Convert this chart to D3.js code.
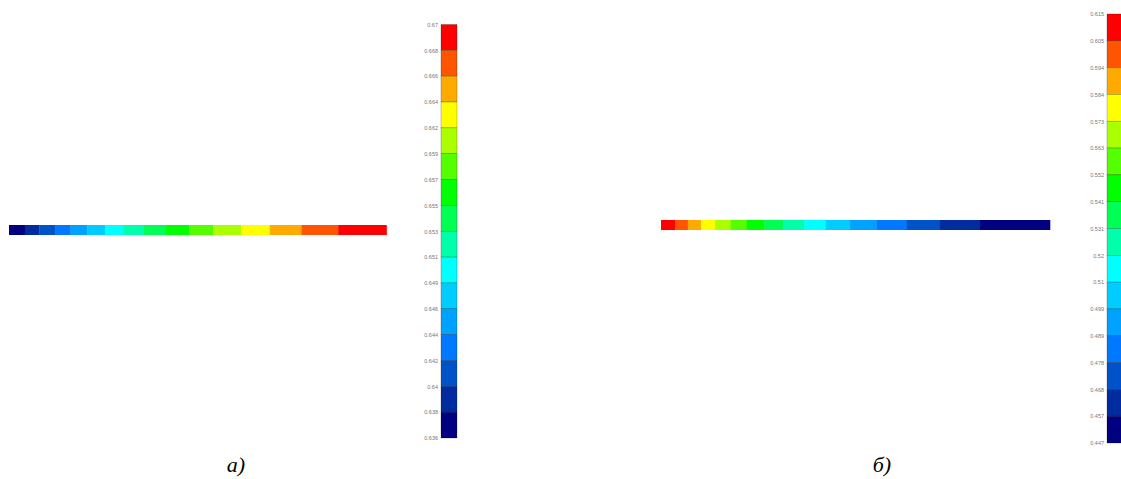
<!DOCTYPE html>
<html>
<head>
<meta charset="utf-8">
<script src="https://cdn.jsdelivr.net/npm/d3@7"></script>
<style>
  body { margin: 0; background: #fff; }
  svg { display: block; }
</style>
</head>
<body>
<div id="main"></div>
<script>
// 16-level palette, lowest level first
const levelColors = [
  "#000080", "#002ca0", "#0052c8", "#0078ff", "#00a2ff", "#00ccff",
  "#00ffff", "#00ffaa", "#00ff55", "#00ff00", "#55ff00", "#aaff00",
  "#ffff00", "#ffaa00", "#ff5500", "#ff0000"
];

// colorbar tick labels, top to bottom
const labelsA = ["0.67", "0.668", "0.666", "0.664", "0.662", "0.659", "0.657", "0.655",
  "0.653", "0.651", "0.649", "0.646", "0.644", "0.642", "0.64", "0.638", "0.636"];
const labelsB = ["0.615", "0.605", "0.594", "0.584", "0.573", "0.563", "0.552", "0.541",
  "0.531", "0.52", "0.51", "0.499", "0.489", "0.478", "0.468", "0.457", "0.447"];

// where the field crosses each level along the line (fraction of length)
const edgesA = [0, 0.042, 0.080, 0.122, 0.163, 0.207, 0.255, 0.304, 0.357,
  0.415, 0.477, 0.541, 0.615, 0.691, 0.775, 0.872, 1];
const edgesB = [0, 0.036, 0.069, 0.103, 0.139, 0.179, 0.220, 0.266, 0.314,
  0.368, 0.423, 0.486, 0.554, 0.632, 0.717, 0.820, 1];
// level index of each segment, left to right
const levelsA = d3.range(16);
const levelsB = d3.range(15, -1, -1);

const captions = ["a)", "б)"];

const width = 1121, height = 479;

const svg = d3.select("#main").append("svg")
  .attr("width", width)
  .attr("height", height);

const panels = [
  {edges: edgesA, levels: levelsA, labels: labelsA, caption: captions[0],
   line: {x0: 9, x1: 386.5, y: 225, h: 10},
   bar: {x: 441, w: 16, top: 24.5, bottom: 438},
   capX: 236},
  {edges: edgesB, levels: levelsB, labels: labelsB, caption: captions[1],
   line: {x0: 661, x1: 1050, y: 220, h: 10},
   bar: {x: 1107, w: 16, top: 14, bottom: 443},
   capX: 882}
];

panels.forEach(p => {
  // the line, coloured by level
  const x = d3.scaleLinear().domain([0, 1]).range([p.line.x0, p.line.x1]);
  const segs = p.levels.map((lv, i) => ({lv, a: p.edges[i], b: p.edges[i + 1]}));
  svg.append("g").selectAll("rect")
    .data(segs)
    .enter().append("rect")
      .attr("x", d => x(d.a))
      .attr("y", p.line.y)
      .attr("width", d => x(d.b) - x(d.a) + 0.3)
      .attr("height", p.line.h)
      .attr("fill", d => levelColors[d.lv]);

  // colorbar
  const y = d3.scaleLinear().domain([0, 16]).range([p.bar.top, p.bar.bottom]);
  const bands = d3.range(16);
  svg.append("g").selectAll("rect")
    .data(bands)
    .enter().append("rect")
      .attr("x", p.bar.x)
      .attr("y", i => y(i))
      .attr("width", p.bar.w)
      .attr("height", i => y(i + 1) - y(i))
      .attr("fill", i => levelColors[15 - i])
      .attr("stroke", "rgba(0,0,0,0.35)")
      .attr("stroke-width", 0.6);

  const axis = svg.append("g")
    .attr("transform", `translate(${p.bar.x - 3},0)`)
    .call(d3.axisLeft(y)
      .tickValues(d3.range(17))
      .tickFormat(i => p.labels[i])
      .tickSize(0)
      .tickPadding(0));
  axis.select(".domain").remove();
  axis.selectAll("text")
    .attr("font-family", "Liberation Sans, Arial, sans-serif")
    .attr("font-size", 5.5)
    .attr("fill", "#777");

  // caption
  svg.append("text")
    .attr("x", p.capX)
    .attr("y", 472)
    .attr("text-anchor", "middle")
    .attr("font-family", "Liberation Serif, Times New Roman, serif")
    .attr("font-style", "italic")
    .attr("font-size", 22)
    .attr("fill", "#000")
    .text(p.caption);
});
</script>
</body>
</html>
